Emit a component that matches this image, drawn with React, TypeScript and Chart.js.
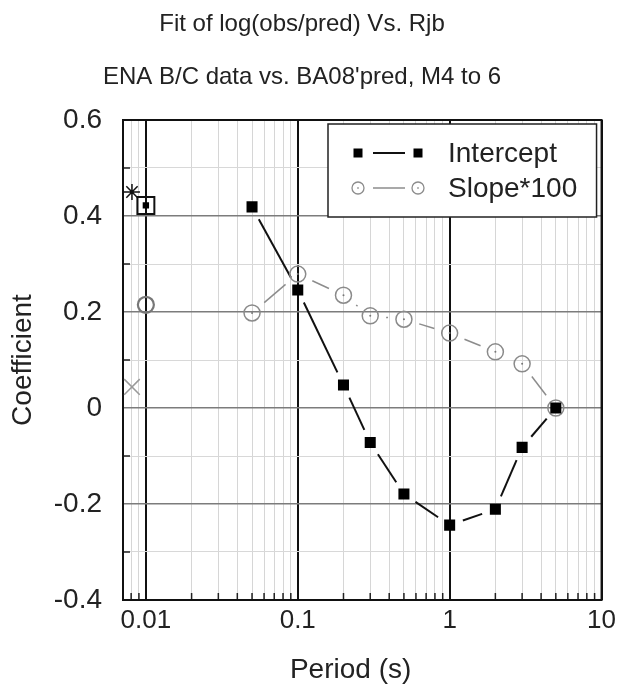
import React, { useEffect, useRef } from "react";
import { Chart, registerables } from "chart.js";

Chart.register(...registerables);

// Spectral periods (s) and fitted coefficients
const periods = [0.05, 0.1, 0.2, 0.3, 0.5, 1, 2, 3, 5];
const intercept = [0.419, 0.246, 0.048, -0.072, -0.179, -0.244, -0.211, -0.082, 0.0];
const slope100 = [0.198, 0.279, 0.235, 0.192, 0.185, 0.156, 0.117, 0.092, 0.0];

// PGA plotted at 0.01 s, PGV at a nominal short period
const pgaPeriod = [0.01];
const pgaIntercept = [0.422];
const pgaSlope = [0.215];
const pgvPeriod = [0.0081];
const pgvIntercept = [0.45];
const pgvSlope = [0.044];

// Axis ticks
const xMin = 0.00707;
const xMax = 10;
const xDecades = [0.001, 0.01, 0.1, 1, 10];
const xMultipliers = [1, 2, 3, 4, 5, 6, 7, 8, 9];
const xLabelValues = [0.01, 0.1, 1, 10];
const xLabelTexts = ["0.01", "0.1", "1", "10"];
const yTickValues = [-0.4, -0.3, -0.2, -0.1, 0, 0.1, 0.2, 0.3, 0.4, 0.5, 0.6];
const yTickLabels = ["-0.4", "", "-0.2", "", "0", "", "0.2", "", "0.4", "", "0.6"];

const FONT = "'Liberation Sans', Arial, sans-serif";

const xTickValues: number[] = [];
xDecades.forEach((d) =>
  xMultipliers.forEach((m) => {
    const v = +(d * m).toPrecision(6);
    if (v >= xMin && v <= xMax) xTickValues.push(v);
  })
);

const isDecade = (v: number) => Math.abs(Math.log10(v) - Math.round(Math.log10(v))) < 1e-6;
const yIndex = (v: number) => yTickValues.findIndex((t) => Math.abs(t - v) < 1e-9);
const isYMajor = (v: number) => yTickLabels[yIndex(v)] !== "";

const pts = (xs: number[], ys: number[]) => xs.map((x, i) => ({ x, y: ys[i] }));

// Connecting segments that stop short of each marker
const gappedLines = {
  id: "gappedLines",
  beforeDatasetsDraw(chart: any) {
    const ctx = chart.ctx;
    chart.data.datasets.forEach((ds: any, i: number) => {
      const g = ds.gapLine;
      if (!g) return;
      const els = chart.getDatasetMeta(i).data;
      ctx.save();
      ctx.strokeStyle = g.color;
      ctx.lineWidth = g.width;
      for (let k = 0; k < els.length - 1; k++) {
        const a = els[k];
        const b = els[k + 1];
        const dx = b.x - a.x;
        const dy = b.y - a.y;
        const d = Math.hypot(dx, dy);
        if (d <= 2 * g.gap + 1) continue;
        const ux = dx / d;
        const uy = dy / d;
        ctx.beginPath();
        ctx.moveTo(a.x + ux * g.gap, a.y + uy * g.gap);
        ctx.lineTo(b.x - ux * g.gap, b.y - uy * g.gap);
        ctx.stroke();
      }
      ctx.restore();
    });
  },
};

// Plot frame and inward minor tick marks
const framePlugin = {
  id: "frame",
  beforeDatasetsDraw(chart: any) {
    const { ctx, chartArea: a, scales } = chart;
    ctx.save();
    ctx.strokeStyle = "#222";
    ctx.lineWidth = 1.5;
    ctx.beginPath();
    xTickValues
      .filter((v) => !isDecade(v))
      .forEach((v) => {
        const px = scales.x.getPixelForValue(v);
        ctx.moveTo(px, a.bottom);
        ctx.lineTo(px, a.bottom - 7);
      });
    yTickValues
      .filter((v) => !isYMajor(v))
      .forEach((v) => {
        const py = scales.y.getPixelForValue(v);
        ctx.moveTo(a.left, py);
        ctx.lineTo(a.left + 7, py);
      });
    ctx.stroke();
    ctx.strokeStyle = "#111";
    ctx.lineWidth = 2;
    ctx.strokeRect(a.left, a.top, a.right - a.left, a.bottom - a.top);
    ctx.restore();
  },
};

// Boxed legend with marker-line-marker swatches
const legendPlugin = {
  id: "boxLegend",
  afterDatasetsDraw(chart: any) {
    const { ctx, chartArea: a } = chart;
    const left = a.left + 205;
    const top = a.top + 4;
    const right = a.right - 5;
    const bottom = a.top + 97;
    ctx.save();
    ctx.fillStyle = "#fff";
    ctx.fillRect(left, top, right - left, bottom - top);
    ctx.strokeStyle = "#222";
    ctx.lineWidth = 1.5;
    ctx.strokeRect(left, top, right - left, bottom - top);

    const rows = [
      { label: "Intercept", y: top + 29, kind: "rect" },
      { label: "Slope*100", y: top + 64, kind: "circle" },
    ];
    const m1 = left + 30;
    const m2 = left + 90;
    rows.forEach((r) => {
      ctx.beginPath();
      ctx.strokeStyle = r.kind === "rect" ? "#111" : "#8c8c8c";
      ctx.lineWidth = r.kind === "rect" ? 2 : 1.5;
      ctx.moveTo(m1 + 15, r.y);
      ctx.lineTo(m2 - 13, r.y);
      ctx.stroke();
      [m1, m2].forEach((mx) => {
        if (r.kind === "rect") {
          ctx.fillStyle = "#000";
          ctx.fillRect(mx - 4.5, r.y - 4.5, 9, 9);
        } else {
          ctx.beginPath();
          ctx.strokeStyle = "#8c8c8c";
          ctx.lineWidth = 1.3;
          ctx.arc(mx, r.y, 6, 0, Math.PI * 2);
          ctx.stroke();
          ctx.fillStyle = "#777";
          ctx.fillRect(mx - 0.7, r.y - 0.7, 1.4, 1.4);
        }
      });
      ctx.fillStyle = "#222";
      ctx.font = `28px ${FONT}`;
      ctx.textAlign = "left";
      ctx.textBaseline = "middle";
      ctx.fillText(r.label, left + 120, r.y + 1);
    });
    ctx.restore();
  },
};

export default function App() {
  const canvasRef = useRef<HTMLCanvasElement | null>(null);

  useEffect(() => {
    if (!canvasRef.current) return;
    const chart = new Chart(canvasRef.current, {
      type: "scatter",
      data: {
        datasets: [
          {
            label: "Intercept",
            data: pts(periods, intercept),
            showLine: false,
            pointStyle: "rect",
            pointRadius: 7.8,
            pointHoverRadius: 7.8,
            backgroundColor: "#000",
            borderColor: "#000",
            borderWidth: 0,
            gapLine: { gap: 14, color: "#111", width: 2 },
          } as any,
          {
            label: "PGA intercept inner",
            data: pts(pgaPeriod, pgaIntercept),
            pointStyle: "rect",
            pointRadius: 4.5,
            backgroundColor: "#000",
            borderWidth: 0,
          },
          {
            label: "PGA intercept",
            data: pts(pgaPeriod, pgaIntercept),
            pointStyle: "rect",
            pointRadius: 12,
            backgroundColor: "rgba(0,0,0,0)",
            borderColor: "#111",
            borderWidth: 2,
          },
          {
            label: "PGV intercept",
            data: pts(pgvPeriod, pgvIntercept),
            pointStyle: "star",
            pointRadius: 8,
            backgroundColor: "rgba(0,0,0,0)",
            borderColor: "#111",
            borderWidth: 1.5,
          },
          {
            label: "Slope centres",
            data: pts(periods, slope100),
            pointStyle: "circle",
            pointRadius: 1,
            backgroundColor: "#777",
            borderWidth: 0,
          },
          {
            label: "Slope*100",
            data: pts(periods, slope100),
            showLine: false,
            pointStyle: "circle",
            pointRadius: 8,
            backgroundColor: "rgba(0,0,0,0)",
            borderColor: "#8a8a8a",
            borderWidth: 1.5,
            gapLine: { gap: 16, color: "#8c8c8c", width: 1.5 },
          } as any,
          {
            label: "PGA slope",
            data: pts(pgaPeriod, pgaSlope),
            pointStyle: "circle",
            pointRadius: 8,
            backgroundColor: "rgba(0,0,0,0)",
            borderColor: "#777",
            borderWidth: 2.2,
          },
          {
            label: "PGV slope",
            data: pts(pgvPeriod, pgvSlope),
            pointStyle: "crossRot",
            pointRadius: 11,
            backgroundColor: "rgba(0,0,0,0)",
            borderColor: "#999",
            borderWidth: 1.5,
          },
        ],
      },
      options: {
        responsive: false,
        animation: false,
        devicePixelRatio: 1,
        layout: { padding: { left: 0, right: 17, top: 0, bottom: 0 } },
        plugins: {
          legend: { display: false },
          tooltip: { enabled: false },
          title: {
            display: true,
            text: "Fit of log(obs/pred) Vs. Rjb",
            color: "#222",
            font: { family: FONT, size: 24, weight: "normal" },
            padding: { top: 10, bottom: 12 },
          },
          subtitle: {
            display: true,
            text: "ENA B/C data vs. BA08'pred, M4 to 6",
            color: "#222",
            font: { family: FONT, size: 24, weight: "normal" },
            padding: { top: 12, bottom: 28.4 },
          },
        },
        scales: {
          x: {
            type: "logarithmic",
            min: xMin,
            max: xMax,
            afterBuildTicks: (s: any) => {
              s.ticks = xTickValues.map((v) => ({ value: v }));
            },
            afterFit: (s: any) => {
              s.height = 90;
            },
            ticks: {
              autoSkip: false,
              maxRotation: 0,
              minRotation: 0,
              padding: 5,
              color: "#222",
              font: { family: FONT, size: 26 },
              callback: (v: any) => {
                const i = xLabelValues.findIndex((t) => Math.abs(t - v) / t < 1e-6);
                return i >= 0 ? xLabelTexts[i] : "";
              },
            },
            grid: {
              drawTicks: false,
              color: (c: any) => (c.tick && isDecade(c.tick.value) ? "#111" : "#d6d6d6"),
              lineWidth: (c: any) => (c.tick && isDecade(c.tick.value) ? 2 : 1),
            },
            border: { display: false },
            title: {
              display: true,
              // trailing spaces nudge the centred title slightly left
              text: "Period (s)   ",
              color: "#222",
              font: { family: FONT, size: 28 },
              padding: { top: 0, bottom: 3 },
            },
          },
          y: {
            min: -0.4,
            max: 0.6,
            afterBuildTicks: (s: any) => {
              s.ticks = yTickValues.map((v) => ({ value: v }));
            },
            afterFit: (s: any) => {
              s.width = 123;
            },
            ticks: {
              autoSkip: false,
              padding: 21,
              color: "#222",
              font: { family: FONT, size: 28 },
              callback: (v: any) => {
                const i = yIndex(Number(v));
                return i >= 0 ? yTickLabels[i] : "";
              },
            },
            grid: {
              drawTicks: false,
              color: (c: any) => (c.tick && isYMajor(c.tick.value) ? "#7c7c7c" : "#d8d8d8"),
              lineWidth: (c: any) => (c.tick && isYMajor(c.tick.value) ? 1.5 : 1),
            },
            border: { display: false },
            title: {
              display: true,
              text: "Coefficient",
              color: "#222",
              font: { family: FONT, size: 28 },
              padding: { top: 6, bottom: 0 },
            },
          },
        },
      },
      plugins: [gappedLines, framePlugin, legendPlugin],
    } as any);
    return () => chart.destroy();
  }, []);

  return (
    <div style={{ position: "fixed", left: 0, top: 0, width: 621, height: 690, background: "#fff" }}>
      <canvas ref={canvasRef} width={621} height={690} />
    </div>
  );
}
